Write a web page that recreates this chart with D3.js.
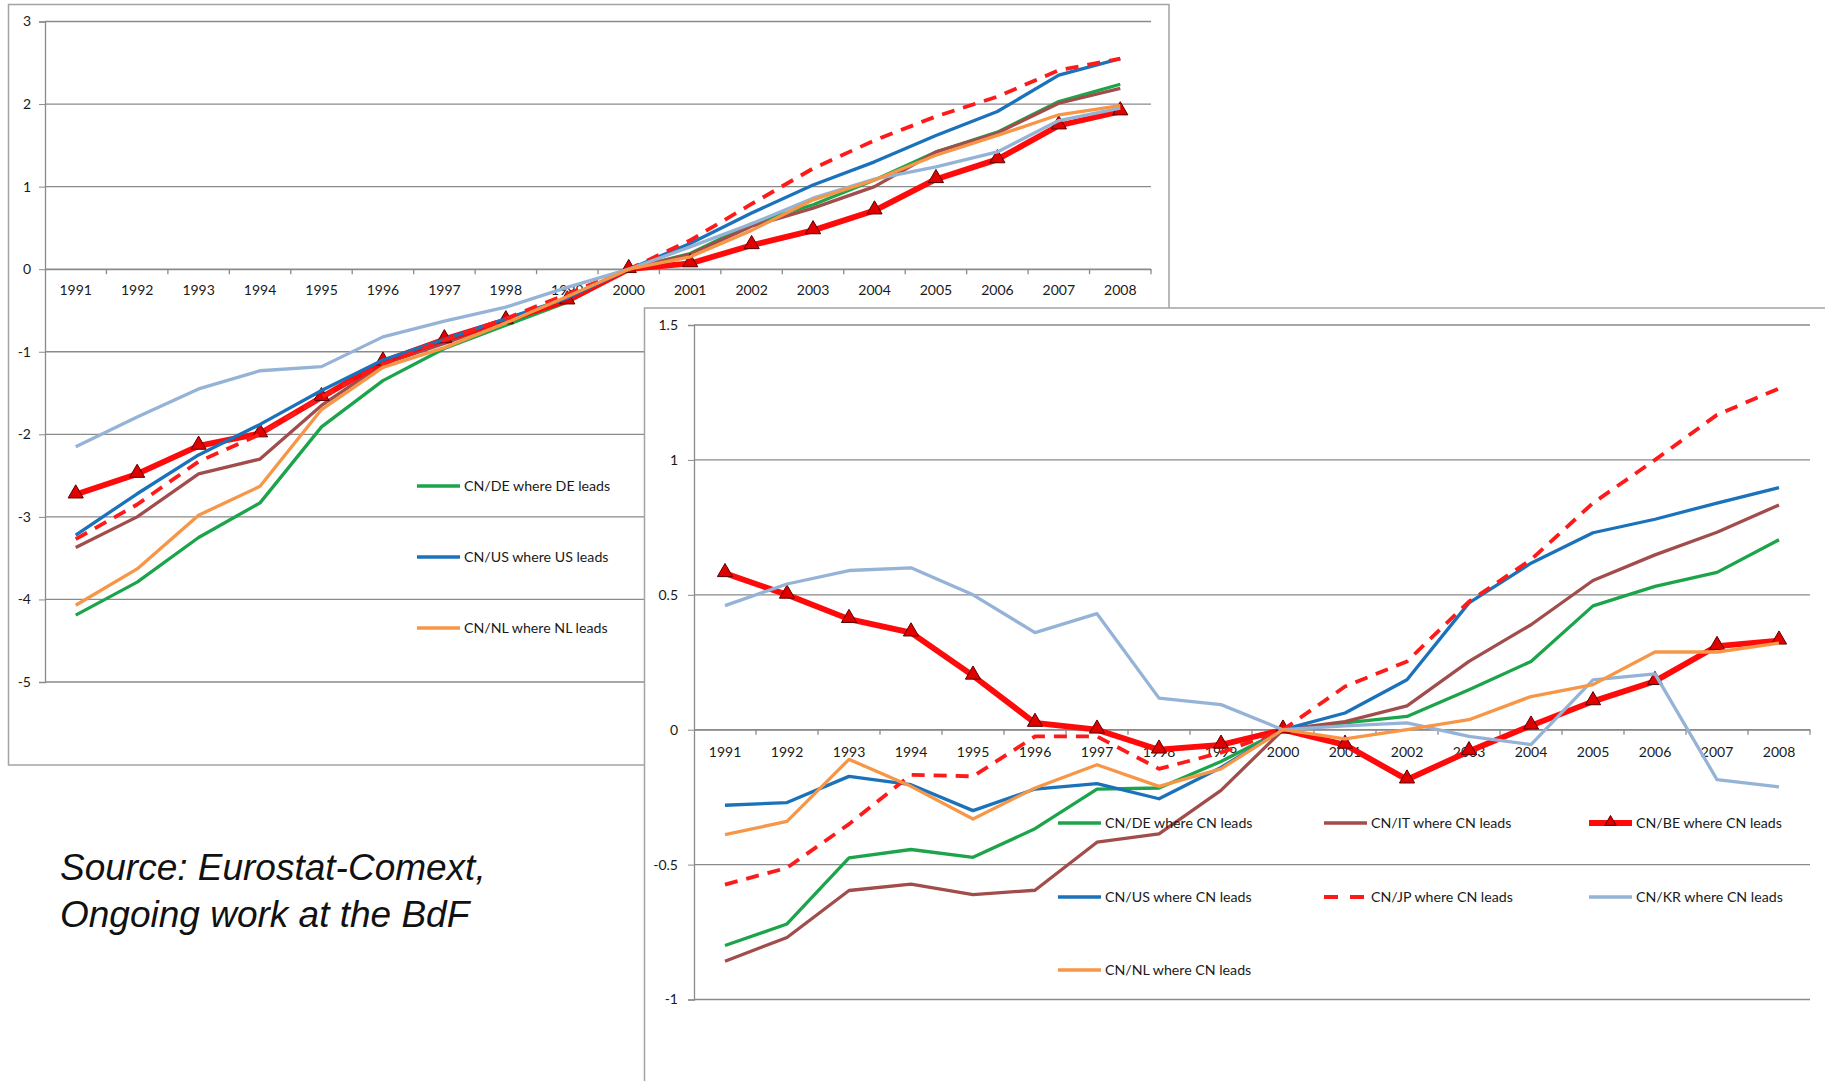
<!DOCTYPE html>
<html>
<head>
<meta charset="utf-8">
<script src="https://cdn.jsdelivr.net/npm/d3@7"></script>
<style>
  html, body { margin: 0; padding: 0; background: #fff; }
  svg { display: block; }
  .tick text { font-family: Lato, "Open Sans", sans-serif; fill: #1a1a1a; }
  .legend text { font-family: Lato, "Open Sans", sans-serif; fill: #1a1a1a; }
  .source { font-family: "Liberation Sans", Arial, sans-serif; font-style: italic; fill: #111; }
</style>
</head>
<body>
<div id="chart"></div>
<script>
// years on the x axis of both panels
var years = ["1991","1992","1993","1994","1995","1996","1997","1998","1999",
             "2000","2001","2002","2003","2004","2005","2006","2007","2008"];

// left panel: "where partner leads"
var de1 = [-4.19,-3.79,-3.25,-2.83,-1.91,-1.35,-0.96,-0.68,-0.40,0,0.19,0.55,0.78,1.08,1.42,1.66,2.03,2.24];
var it1 = [-3.37,-3.00,-2.48,-2.30,-1.65,-1.15,-0.90,-0.63,-0.35,0,0.18,0.52,0.74,1.00,1.42,1.65,2.01,2.19];
var be1 = [-2.73,-2.48,-2.14,-1.99,-1.55,-1.12,-0.85,-0.62,-0.38,0,0.07,0.29,0.47,0.71,1.09,1.33,1.74,1.91];
var us1 = [-3.22,-2.72,-2.25,-1.88,-1.47,-1.10,-0.85,-0.60,-0.35,0,0.31,0.68,1.02,1.30,1.62,1.91,2.35,2.55];
var jp1 = [-3.27,-2.85,-2.33,-2.00,-1.55,-1.15,-0.86,-0.60,-0.30,0,0.35,0.79,1.22,1.56,1.85,2.09,2.41,2.55];
var kr1 = [-2.15,-1.79,-1.45,-1.23,-1.18,-0.82,-0.63,-0.46,-0.22,0,0.27,0.55,0.86,1.09,1.24,1.42,1.80,1.95];
var nl1 = [-4.07,-3.63,-2.98,-2.63,-1.70,-1.19,-0.95,-0.65,-0.33,0,0.15,0.47,0.84,1.08,1.38,1.62,1.87,1.98];

// right panel: "where CN leads"
var de2 = [-0.80,-0.72,-0.475,-0.444,-0.473,-0.367,-0.22,-0.216,-0.118,0,0.025,0.049,0.148,0.253,0.459,0.531,0.583,0.704];
var it2 = [-0.858,-0.77,-0.596,-0.572,-0.611,-0.595,-0.417,-0.386,-0.225,0,0.03,0.088,0.253,0.389,0.553,0.648,0.732,0.833];
var be2 = [0.58,0.50,0.41,0.36,0.20,0.025,0.0,-0.074,-0.056,0,-0.056,-0.185,-0.08,0.015,0.105,0.18,0.31,0.33];
var us2 = [-0.28,-0.27,-0.173,-0.204,-0.30,-0.22,-0.20,-0.256,-0.14,0,0.062,0.185,0.47,0.617,0.73,0.78,0.84,0.897];
var jp2 = [-0.574,-0.512,-0.35,-0.167,-0.173,-0.025,-0.025,-0.145,-0.085,0,0.16,0.253,0.475,0.63,0.84,1.0,1.167,1.265];
var kr2 = [0.46,0.54,0.59,0.60,0.50,0.36,0.43,0.117,0.093,0,0.014,0.025,-0.025,-0.055,0.185,0.207,-0.185,-0.212];
var nl2 = [-0.389,-0.34,-0.11,-0.21,-0.331,-0.216,-0.13,-0.21,-0.145,0,-0.034,0.0,0.037,0.123,0.167,0.288,0.288,0.321];

var yTicks1 = [3,2,1,0,-1,-2,-3,-4,-5];
var yTicks2 = [1.5,1,0.5,0,-0.5,-1];

var names1 = ["CN/DE where DE leads","CN/US where US leads","CN/NL where NL leads"];
var names2 = ["CN/DE where CN leads","CN/IT where CN leads","CN/BE where CN leads",
              "CN/US where CN leads","CN/JP where CN leads","CN/KR where CN leads",
              "CN/NL where CN leads"];

var sourceLines = ["Source: Eurostat-Comext,","Ongoing work at the BdF"];

var style = {
  de: { color: "#1ca44b", width: 3.3 },
  it: { color: "#a04d4b", width: 3.3 },
  be: { color: "#ff0a0a", width: 5.8, marker: true },
  us: { color: "#1a72bb", width: 3.3 },
  jp: { color: "#ff1a1a", width: 3.8, dash: "13,9" },
  kr: { color: "#95b3d7", width: 3.3 },
  nl: { color: "#f79646", width: 3.3 }
};

var width = 1825, height = 1081;
var svg = d3.select("#chart").append("svg")
  .attr("width", width).attr("height", height);

function drawPanel(g, opt) {
  var x = d3.scaleBand().domain(years).range([opt.left, opt.right]);
  var y = d3.scaleLinear().domain(opt.domain).range([opt.bottom, opt.top]);

  // frame
  g.append("rect")
    .attr("x", opt.frame[0]).attr("y", opt.frame[1])
    .attr("width", opt.frame[2]).attr("height", opt.frame[3])
    .attr("fill", "#fff").attr("stroke", "#a3a3a3").attr("stroke-width", 1.5);

  // gridlines + y labels
  var yAxis = g.append("g")
    .attr("transform", "translate(" + opt.left + ",0)")
    .call(d3.axisLeft(y).tickValues(opt.ticks).tickSize(6).tickPadding(opt.pad)
      .tickFormat(function (d) { return String(d); }));
  yAxis.select(".domain").attr("stroke", "#8a8a8a").attr("stroke-width", 1.3);
  yAxis.selectAll(".tick line").attr("stroke", "#8a8a8a");
  yAxis.selectAll(".tick text").attr("font-size", 14);
  yAxis.selectAll(".grid")
    .data(opt.ticks).enter().append("line")
    .attr("x1", 0).attr("x2", opt.right - opt.left)
    .attr("y1", function (d) { return y(d); }).attr("y2", function (d) { return y(d); })
    .attr("stroke", "#8a8a8a").attr("stroke-width", 1.3);

  // x axis at zero
  var xAxis = g.append("g")
    .attr("transform", "translate(0," + y(0) + ")")
    .call(d3.axisBottom(x).tickSize(0).tickPadding(opt.xpad));
  xAxis.select(".domain").attr("stroke", "#8a8a8a").attr("stroke-width", 1.3);
  xAxis.selectAll(".tick text").attr("font-size", 14);
  xAxis.selectAll(".edge")
    .data(years).enter().append("line")
    .attr("x1", function (d) { return x(d) + x.bandwidth(); })
    .attr("x2", function (d) { return x(d) + x.bandwidth(); })
    .attr("y1", 0).attr("y2", 5)
    .attr("stroke", "#8a8a8a").attr("stroke-width", 1.3);

  var line = d3.line()
    .x(function (d, i) { return x(years[i]) + x.bandwidth() / 2; })
    .y(function (d) { return y(d); });

  opt.series.forEach(function (s) {
    var st = style[s.key];
    g.append("path")
      .datum(s.values)
      .attr("d", line)
      .attr("fill", "none")
      .attr("stroke", st.color)
      .attr("stroke-width", st.width)
      .attr("stroke-linejoin", "round")
      .attr("stroke-dasharray", st.dash || null);
    if (st.marker) {
      g.selectAll(".tri-" + s.key)
        .data(s.values).enter().append("path")
        .attr("d", d3.symbol().type(d3.symbolTriangle).size(100))
        .attr("transform", function (d, i) {
          return "translate(" + (x(years[i]) + x.bandwidth() / 2) + "," + (y(d) - 1) + ")";
        })
        .attr("fill", "#e00000").attr("stroke", "#5a0000").attr("stroke-width", 1);
    }
  });
}

function legendItem(g, key, label, lx, ly) {
  var st = style[key];
  var item = g.append("g").attr("class", "legend");
  item.append("line")
    .attr("x1", lx).attr("x2", lx + 43).attr("y1", ly).attr("y2", ly)
    .attr("stroke", st.color).attr("stroke-width", st.width)
    .attr("stroke-dasharray", st.dash ? "14,12" : null);
  if (st.marker) {
    item.append("path")
      .attr("d", d3.symbol().type(d3.symbolTriangle).size(55))
      .attr("transform", "translate(" + (lx + 21.5) + "," + (ly - 1) + ")")
      .attr("fill", "#e00000").attr("stroke", "#5a0000").attr("stroke-width", 1);
  }
  item.append("text")
    .attr("x", lx + 47).attr("y", ly).attr("dy", "0.35em")
    .attr("font-size", 14.2)
    .text(label);
}

// left panel
var g1 = svg.append("g");
drawPanel(g1, {
  left: 45, right: 1151, top: 21.5, bottom: 682,
  domain: [-5, 3], ticks: yTicks1, pad: 8, xpad: 16,
  frame: [8.5, 4.5, 1160.5, 760.5],
  series: [
    { key: "de", values: de1 }, { key: "it", values: it1 }, { key: "be", values: be1 },
    { key: "us", values: us1 }, { key: "jp", values: jp1 }, { key: "kr", values: kr1 },
    { key: "nl", values: nl1 }
  ]
});
var keys1 = ["de", "us", "nl"];
keys1.forEach(function (k, i) {
  legendItem(g1, k, names1[i], 417, 486 + i * 71);
});

// right panel, drawn over the left one
var g2 = svg.append("g");
drawPanel(g2, {
  left: 694, right: 1810, top: 325, bottom: 999.5,
  domain: [-1, 1.5], ticks: yTicks2, pad: 10, xpad: 17,
  frame: [644.5, 308, 1300, 900],
  series: [
    { key: "de", values: de2 }, { key: "it", values: it2 }, { key: "be", values: be2 },
    { key: "us", values: us2 }, { key: "jp", values: jp2 }, { key: "kr", values: kr2 },
    { key: "nl", values: nl2 }
  ]
});
var keys2 = ["de", "it", "be", "us", "jp", "kr", "nl"];
var colX = [1058, 1324, 1589];
var rowY = [823, 897, 970];
keys2.forEach(function (k, i) {
  legendItem(g2, k, names2[i], colX[i % 3], rowY[Math.floor(i / 3)]);
});

// source note
svg.append("g").selectAll("text")
  .data(sourceLines).enter().append("text")
  .attr("class", "source")
  .attr("x", 60).attr("y", function (d, i) { return 880 + i * 47; })
  .attr("font-size", 37)
  .text(function (d) { return d; });
</script>
</body>
</html>
